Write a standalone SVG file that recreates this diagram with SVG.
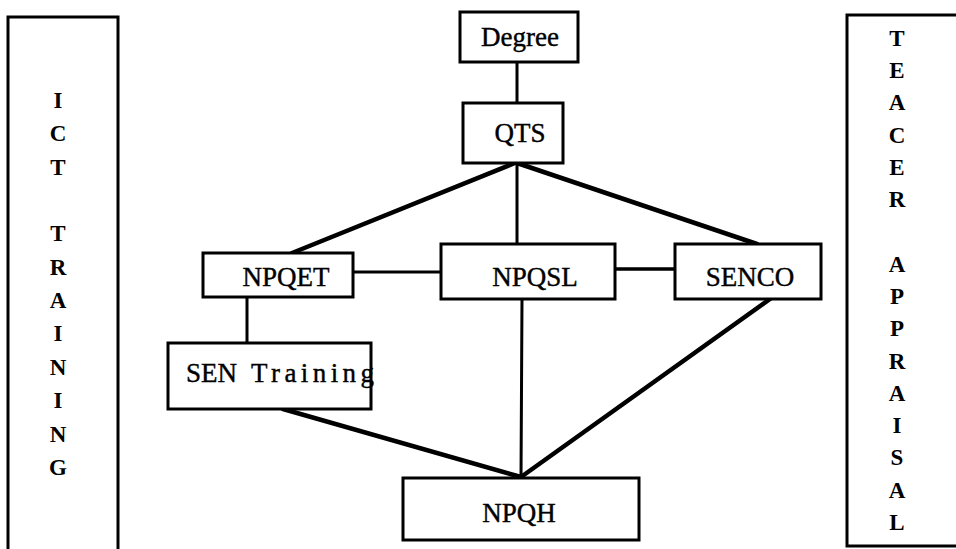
<svg xmlns="http://www.w3.org/2000/svg" width="956" height="549" viewBox="0 0 956 549">
<style>
.box{fill:#fff;stroke:#000;stroke-width:3}
.side{fill:none;stroke:#000;stroke-width:3}
.lbl{font-family:"Liberation Serif","DejaVu Serif",serif;font-size:27px;fill:#000;stroke:#000;stroke-width:0.4}
.mid{text-anchor:middle}
.col{font-family:"Liberation Serif","DejaVu Serif",serif;font-size:23px;font-weight:bold;fill:#000;text-anchor:middle}
.c{stroke:#000;fill:none;stroke-linecap:round}
</style>
<rect width="956" height="549" fill="#fff"/>
<g id="connectors">
<line class="c" x1="517" y1="62" x2="517" y2="103" stroke-width="3"/>
<line class="c" x1="515" y1="163" x2="292" y2="253" stroke-width="4.5"/>
<line class="c" x1="517" y1="163" x2="517" y2="244" stroke-width="3"/>
<line class="c" x1="517" y1="163" x2="757" y2="244" stroke-width="4.5"/>
<line class="c" x1="353" y1="272" x2="441" y2="272" stroke-width="3"/>
<line class="c" x1="615" y1="269" x2="675" y2="269" stroke-width="3.5"/>
<line class="c" x1="247" y1="297" x2="247" y2="343" stroke-width="3"/>
<line class="c" x1="283" y1="409" x2="521" y2="477" stroke-width="4.5"/>
<line class="c" x1="522" y1="299" x2="521" y2="477" stroke-width="3"/>
<line class="c" x1="770" y1="299" x2="521" y2="477" stroke-width="4.5"/>
</g>
<g id="ict">
<path class="side" d="M8 560 V17 H118 V560"/>
<text class="col"><tspan x="58" y="108">I</tspan><tspan x="58" y="141">C</tspan><tspan x="58" y="175">T</tspan><tspan x="58" y="241">T</tspan><tspan x="58" y="275">R</tspan><tspan x="58" y="308">A</tspan><tspan x="58" y="341">I</tspan><tspan x="58" y="375">N</tspan><tspan x="58" y="408">I</tspan><tspan x="58" y="442">N</tspan><tspan x="58" y="475">G</tspan></text>
</g>
<g id="appraisal">
<path class="side" d="M960 15 H847 V546 H960"/>
<text class="col"><tspan x="897" y="46">T</tspan><tspan x="897" y="78">E</tspan><tspan x="897" y="110">A</tspan><tspan x="897" y="143">C</tspan><tspan x="897" y="175">E</tspan><tspan x="897" y="207">R</tspan><tspan x="897" y="272">A</tspan><tspan x="897" y="304">P</tspan><tspan x="897" y="336">P</tspan><tspan x="897" y="369">R</tspan><tspan x="897" y="401">A</tspan><tspan x="897" y="433">I</tspan><tspan x="897" y="465">S</tspan><tspan x="897" y="498">A</tspan><tspan x="897" y="530">L</tspan></text>
</g>
<g id="degree">
<rect class="box" x="460" y="12" width="118" height="50"/>
<text class="lbl mid" x="520" y="46" font-size="30">Degree</text>
</g>
<g id="qts">
<rect class="box" x="463" y="103" width="100" height="60"/>
<text class="lbl mid" x="520" y="142" font-size="25">QTS</text>
</g>
<g id="npqet">
<rect class="box" x="203" y="253" width="150" height="44"/>
<text class="lbl mid" x="286" y="286">NPQET</text>
</g>
<g id="npqsl">
<rect class="box" x="441" y="244" width="174" height="55"/>
<text class="lbl mid" x="535" y="286">NPQSL</text>
</g>
<g id="senco">
<rect class="box" x="675" y="244" width="146" height="55"/>
<text class="lbl mid" x="750" y="286">SENCO</text>
</g>
<g id="sen-training">
<rect class="box" x="168" y="343" width="203" height="66"/>
<text class="lbl" x="186" y="382" font-size="28">SEN</text>
<text class="lbl" x="251" y="382" font-size="28" textLength="123" lengthAdjust="spacing">Training</text>
</g>
<g id="npqh">
<rect class="box" x="403" y="478" width="236" height="62"/>
<text class="lbl mid" x="519" y="522">NPQH</text>
</g>
</svg>
